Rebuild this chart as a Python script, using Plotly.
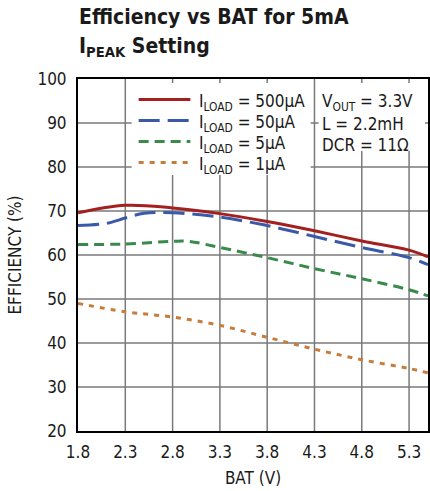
import plotly.graph_objects as go

bat = [1.8, 2.3, 2.8, 3.3, 3.8, 4.3, 4.8, 5.3, 5.5]
eff_500uA = [69.6, 71.3, 70.7, 69.4, 67.6, 65.5, 63.2, 61.1, 59.6]
bat_50 = [1.8, 2.1, 2.3, 2.5, 2.8, 3.3, 3.8, 4.3, 4.8, 5.3, 5.5]
eff_50uA = [66.7, 67.2, 68.4, 69.5, 69.6, 68.6, 66.7, 64.2, 61.7, 59.4, 57.8]
bat_5 = [1.8, 2.3, 2.8, 2.97, 3.3, 3.8, 4.3, 4.8, 5.3, 5.5]
eff_5uA = [62.4, 62.5, 63.1, 63.1, 61.7, 59.4, 56.9, 54.6, 52.1, 50.7]
eff_1uA = [49.0, 47.1, 45.9, 44.0, 41.3, 38.6, 36.2, 34.2, 33.2]

x_ticks = [1.8, 2.3, 2.8, 3.3, 3.8, 4.3, 4.8, 5.3]
y_ticks = [20, 30, 40, 50, 60, 70, 80, 90, 100]

series_names = ["I<sub>LOAD</sub> = 500µA", "I<sub>LOAD</sub> = 50µA",
                "I<sub>LOAD</sub> = 5µA", "I<sub>LOAD</sub> = 1µA"]
series_colors = ["#a3201f", "#3a59a8", "#3a8a4c", "#c67c3b"]
series_dash = ["solid", "21px,8px", "10px,6px", "5px,6px"]
conditions = ["V<sub>OUT</sub> = 3.3V", "L = 2.2mH", "DCR = 11Ω"]

FONT = "DejaVu Sans Condensed, Roboto, sans-serif"
W, H = 430, 491
L, R, T, B = 78, 0, 79, 60
PW, PH = W - L - R, H - T - B
GRID = "#7a7a7a"


def px(x):
    return (x - L) / PW


def py(y):
    return (H - B - y) / PH


fig = go.Figure()
xs = [bat, bat_50, bat_5, bat]
ys = [eff_500uA, eff_50uA, eff_5uA, eff_1uA]
for xv, yv, nm, c, d in zip(xs, ys, series_names, series_colors, series_dash):
    fig.add_trace(go.Scatter(x=xv, y=yv, mode="lines", line_shape="spline",
                             line=dict(color=c, width=3, dash=d), name=nm,
                             showlegend=False))

shapes = []
# grid lines (drawn as shapes so the legend blocks can mask them)
for xv in x_ticks[1:]:
    shapes.append(dict(type="line", xref="x", yref="paper", x0=xv, x1=xv, y0=0, y1=1,
                       line=dict(color=GRID, width=1.5), layer="below"))
for yv in y_ticks[1:-1]:
    shapes.append(dict(type="line", xref="paper", yref="y", x0=0, x1=1, y0=yv, y1=yv,
                       line=dict(color=GRID, width=1.5), layer="below"))
# white backgrounds behind legend / conditions blocks
shapes += [
    dict(type="rect", xref="paper", yref="paper", x0=px(132), x1=px(312),
         y0=py(175), y1=py(83), fillcolor="white", line_width=0, layer="below"),
    dict(type="rect", xref="paper", yref="paper", x0=px(320), x1=px(427),
         y0=py(151), y1=py(83), fillcolor="white", line_width=0, layer="below"),
]
annotations = [
    dict(text="<b>Efficiency vs BAT for 5mA</b>", xref="paper", yref="paper",
         x=px(77), y=py(31), xanchor="left", yanchor="bottom",
         showarrow=False, font=dict(family=FONT, size=21, color="#1a1a1a")),
    dict(text="<b>I<sub>PEAK</sub> Setting</b>", xref="paper", yref="paper",
         x=px(77), y=py(62), xanchor="left", yanchor="bottom",
         showarrow=False, font=dict(family=FONT, size=21, color="#1a1a1a")),
]
row_y = [99.5, 120.5, 141.5, 162.5]
for i, (nm, c, d) in enumerate(zip(series_names, series_colors, series_dash)):
    shapes.append(dict(type="line", xref="paper", yref="paper",
                       x0=px(139), x1=px(191), y0=py(row_y[i]), y1=py(row_y[i]),
                       line=dict(color=c, width=3, dash=d), layer="above"))
    annotations.append(dict(text=nm, xref="paper", yref="paper",
                            x=px(198), y=py(row_y[i] + 3), xanchor="left", yanchor="middle",
                            showarrow=False, font=dict(family=FONT, size=17, color="#1a1a1a")))
for i, t in enumerate(conditions):
    annotations.append(dict(text=t, xref="paper", yref="paper",
                            x=px(321), y=py(row_y[i] + 3), xanchor="left", yanchor="middle",
                            showarrow=False, font=dict(family=FONT, size=17, color="#1a1a1a")))

fig.update_layout(
    width=W, height=H,
    margin=dict(l=L, r=R, t=T, b=B),
    paper_bgcolor="white", plot_bgcolor="white",
    font=dict(family=FONT, size=17, color="#1a1a1a"),
    showlegend=False,
    xaxis=dict(range=[1.8, 5.5], tickvals=x_ticks, ticktext=[f"{v:.1f}" for v in x_ticks],
               showgrid=False,
               showline=True, linecolor="black", linewidth=2, mirror=True,
               ticks="", zeroline=False, ticklabelstandoff=5,
               tickfont=dict(family=FONT, size=17),
               title=dict(text="BAT (V)", font=dict(family=FONT, size=17), standoff=11)),
    yaxis=dict(range=[20, 100], tickvals=y_ticks,
               showgrid=False,
               showline=True, linecolor="black", linewidth=2, mirror=True,
               ticks="", zeroline=False, ticklabelstandoff=6,
               tickfont=dict(family=FONT, size=17),
               title=dict(text="EFFICIENCY (%)", font=dict(family=FONT, size=17), standoff=11)),
    shapes=shapes,
    annotations=annotations,
)

fig.write_html("out.html", config={"displayModeBar": False},
               post_script="document.body.style.margin='0';document.body.style.overflow='hidden';")
